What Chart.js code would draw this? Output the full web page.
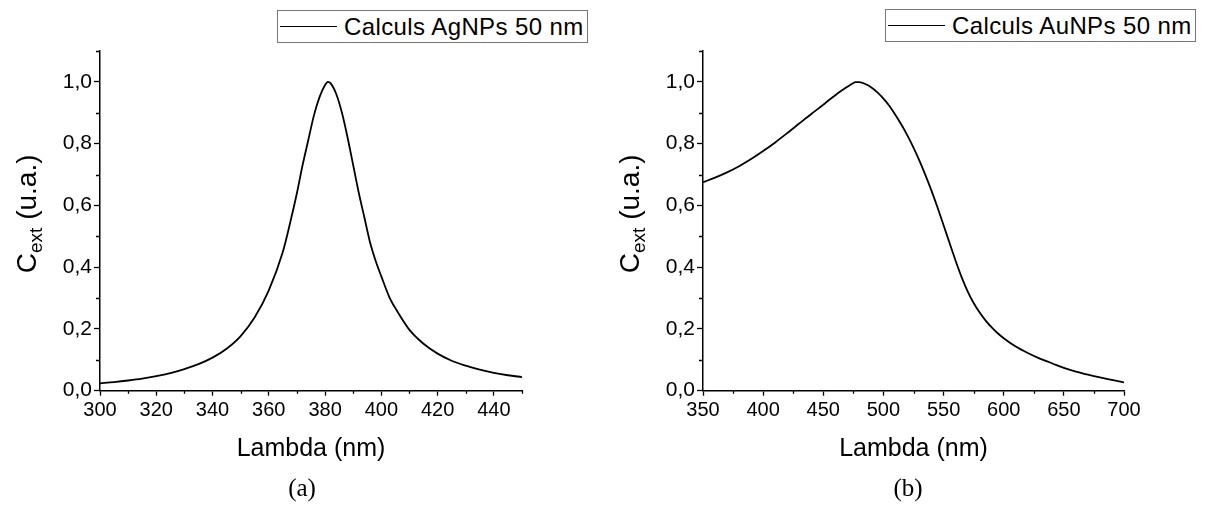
<!DOCTYPE html>
<html>
<head>
<meta charset="utf-8">
<script src="https://cdn.jsdelivr.net/npm/chart.js@4.4.1/dist/chart.umd.min.js"></script>
<style>
    body { margin: 0; background: #fff; width: 1207px; height: 507px; overflow: hidden; position: relative; font-family: "Liberation Sans", Arial, sans-serif; }
    canvas { position: absolute; top: 0; }
    .legend { position: absolute; box-sizing: border-box; border: 1px solid #777; background: #fff; height: 33px; width: 311px; display: flex; align-items: center; font-size: 24px; letter-spacing: 0.4px; color: #000; white-space: nowrap; }
    .legend .ln { width: 57px; border-top: 1.6px solid #000; margin: 0 7px 0 2px; }
    .caption { position: absolute; top: 474px; width: 60px; margin-left: -30px; text-align: center; font-family: "Liberation Serif", serif; font-size: 25px; color: #000; }
</style>
</head>
<body>
<canvas id="chartAg" width="603" height="507" style="left:0"></canvas>
<canvas id="chartAu" width="604" height="507" style="left:603px"></canvas>
<div class="legend" style="left:277px;top:10px"><span class="ln"></span>Calculs AgNPs 50 nm</div>
<div class="legend" style="left:885px;top:9px"><span class="ln"></span>Calculs AuNPs 50 nm</div>
<div class="caption" style="left:302px">(a)</div>
<div class="caption" style="left:908px">(b)</div>
<script>
// AgNPs 50 nm
const agLambda = [300, 305, 310, 315, 320, 325, 330, 335, 340, 345, 350, 355, 360, 365, 368, 370, 372, 374, 376, 378, 380, 381, 382, 384, 386, 388, 390, 392, 394, 396, 398, 400, 403, 406, 410, 415, 420, 425, 430, 435, 440, 445, 450];
const agCext = [0.024, 0.028, 0.033, 0.039, 0.047, 0.057, 0.070, 0.086, 0.107, 0.136, 0.177, 0.238, 0.325, 0.450, 0.56, 0.64, 0.73, 0.81, 0.89, 0.95, 0.99, 1.0, 0.995, 0.96, 0.90, 0.82, 0.73, 0.64, 0.56, 0.48, 0.42, 0.37, 0.30, 0.252, 0.197, 0.152, 0.120, 0.097, 0.081, 0.068, 0.058, 0.050, 0.044];

// AuNPs 50 nm
const auLambda = [350, 360, 370, 380, 390, 400, 410, 420, 430, 440, 450, 455, 460, 465, 470, 474, 477, 480, 485, 490, 495, 500, 505, 510, 515, 520, 525, 530, 535, 540, 545, 550, 555, 560, 565, 570, 575, 580, 585, 590, 595, 600, 610, 620, 630, 640, 650, 660, 670, 680, 690, 700];
const auCext = [0.675, 0.690, 0.707, 0.727, 0.750, 0.776, 0.804, 0.834, 0.865, 0.896, 0.926, 0.942, 0.957, 0.971, 0.984, 0.994, 0.999, 0.999, 0.993, 0.982, 0.966, 0.946, 0.922, 0.893, 0.861, 0.826, 0.787, 0.744, 0.697, 0.647, 0.593, 0.536, 0.478, 0.421, 0.368, 0.322, 0.284, 0.253, 0.227, 0.205, 0.186, 0.170, 0.143, 0.122, 0.104, 0.089, 0.074, 0.062, 0.052, 0.043, 0.035, 0.027];

const agXTicks = [300, 320, 340, 360, 380, 400, 420, 440];
const agXMinor = [310, 330, 350, 370, 390, 410, 430, 450];
const auXTicks = [350, 400, 450, 500, 550, 600, 650, 700];
const auXMinor = [375, 425, 475, 525, 575, 625, 675];
const yTicks = [0, 0.2, 0.4, 0.6, 0.8, 1.0];
const yMinor = [0.1, 0.3, 0.5, 0.7, 0.9, 1.1];

Chart.defaults.font.family = '"Liberation Sans", Arial, sans-serif';
Chart.defaults.color = '#000';

// y title with subscript: C_ext (u.a.)
const yTitlePlugin = {
    id: 'yTitle',
    afterDraw(chart, args, opts) {
        const ctx = chart.ctx;
        const area = chart.chartArea;
        const big = '28px "Liberation Sans"';
        const small = '19px "Liberation Sans"';
        ctx.save();
        ctx.fillStyle = '#000';
        ctx.translate(opts.x, (area.top + area.bottom) / 2 + opts.shift);
        ctx.rotate(-Math.PI / 2);
        ctx.textBaseline = 'alphabetic';
        ctx.font = big;
        const wC = ctx.measureText('C').width;
        const wRest = ctx.measureText(' (u.a.)').width;
        ctx.font = small;
        const wSub = ctx.measureText('ext').width;
        let x = -(wC + wSub + wRest) / 2;
        ctx.font = big;
        ctx.fillText('C', x, 10);
        x += wC;
        ctx.font = small;
        ctx.fillText('ext', x, 16);
        x += wSub;
        ctx.font = big;
        ctx.fillText(' (u.a.)', x, 10);
        ctx.restore();
    }
};

// short minor ticks outside the axes
const minorTicksPlugin = {
    id: 'minorTicks',
    afterDraw(chart, args, opts) {
        const ctx = chart.ctx;
        const xs = chart.scales.x, ys = chart.scales.y;
        const area = chart.chartArea;
        ctx.save();
        ctx.strokeStyle = '#000';
        ctx.lineWidth = 1.3;
        ctx.beginPath();
        opts.x.forEach(v => {
            const px = Math.round(xs.getPixelForValue(v)) + 0.5;
            ctx.moveTo(px, area.bottom);
            ctx.lineTo(px, area.bottom + 3);
        });
        opts.y.forEach(v => {
            const py = Math.round(ys.getPixelForValue(v)) + 0.5;
            ctx.moveTo(area.left, py);
            ctx.lineTo(area.left - 4, py);
        });
        ctx.stroke();
        ctx.restore();
    }
};

function makeChart(id, xs, ys, label, xMin, xMax, xMajor, xMinorList, padRight) {
    const points = xs.map((x, i) => ({ x: x, y: ys[i] }));
    return new Chart(document.getElementById(id), {
        type: 'line',
        data: {
            datasets: [{
                label: label,
                data: points,
                borderColor: '#000',
                borderWidth: 1.8,
                pointRadius: 0,
                cubicInterpolationMode: 'monotone',
                fill: false
            }]
        },
        options: {
            responsive: false,
            animation: false,
            devicePixelRatio: 1,
            layout: { padding: { top: 51, right: padRight, left: 0, bottom: 33.3 } },
            plugins: {
                legend: { display: false },
                tooltip: { enabled: false },
                yTitle: { x: 26, shift: -7 },
                minorTicks: { x: xMinorList, y: yMinor }
            },
            scales: {
                x: {
                    type: 'linear',
                    min: xMin,
                    max: xMax,
                    afterBuildTicks: s => { s.ticks = xMajor.map(v => ({ value: v })); },
                    afterFit: s => { s.height = 83; },
                    grid: { display: true, drawOnChartArea: false, tickLength: 5, tickColor: '#000', tickWidth: 1.3 },
                    border: { display: true, color: '#000', width: 1.5 },
                    ticks: { color: '#000', font: { size: 20 }, padding: 3, maxRotation: 0, autoSkip: false },
                    title: { display: true, text: 'Lambda (nm)', color: '#000', font: { size: 25 }, padding: { top: 0, bottom: 10 } }
                },
                y: {
                    type: 'linear',
                    min: 0,
                    max: 1.1,
                    afterBuildTicks: s => { s.ticks = yTicks.map(v => ({ value: v })); },
                    afterFit: s => { s.width = 100; },
                    grid: { display: true, drawOnChartArea: false, tickLength: 6, tickColor: '#000', tickWidth: 1.3 },
                    border: { display: true, color: '#000', width: 1.5 },
                    ticks: {
                        color: '#000',
                        font: { size: 21 },
                        padding: 2,
                        callback: v => v.toFixed(1).replace('.', ',')
                    }
                }
            }
        },
        plugins: [yTitlePlugin, minorTicksPlugin]
    });
}

makeChart('chartAg', agLambda, agCext, 'Calculs AgNPs 50 nm', 300, 450, agXTicks, agXMinor, 81);
makeChart('chartAu', auLambda, auCext, 'Calculs AuNPs 50 nm', 350, 700, auXTicks, auXMinor, 83);
</script>
</body>
</html>
